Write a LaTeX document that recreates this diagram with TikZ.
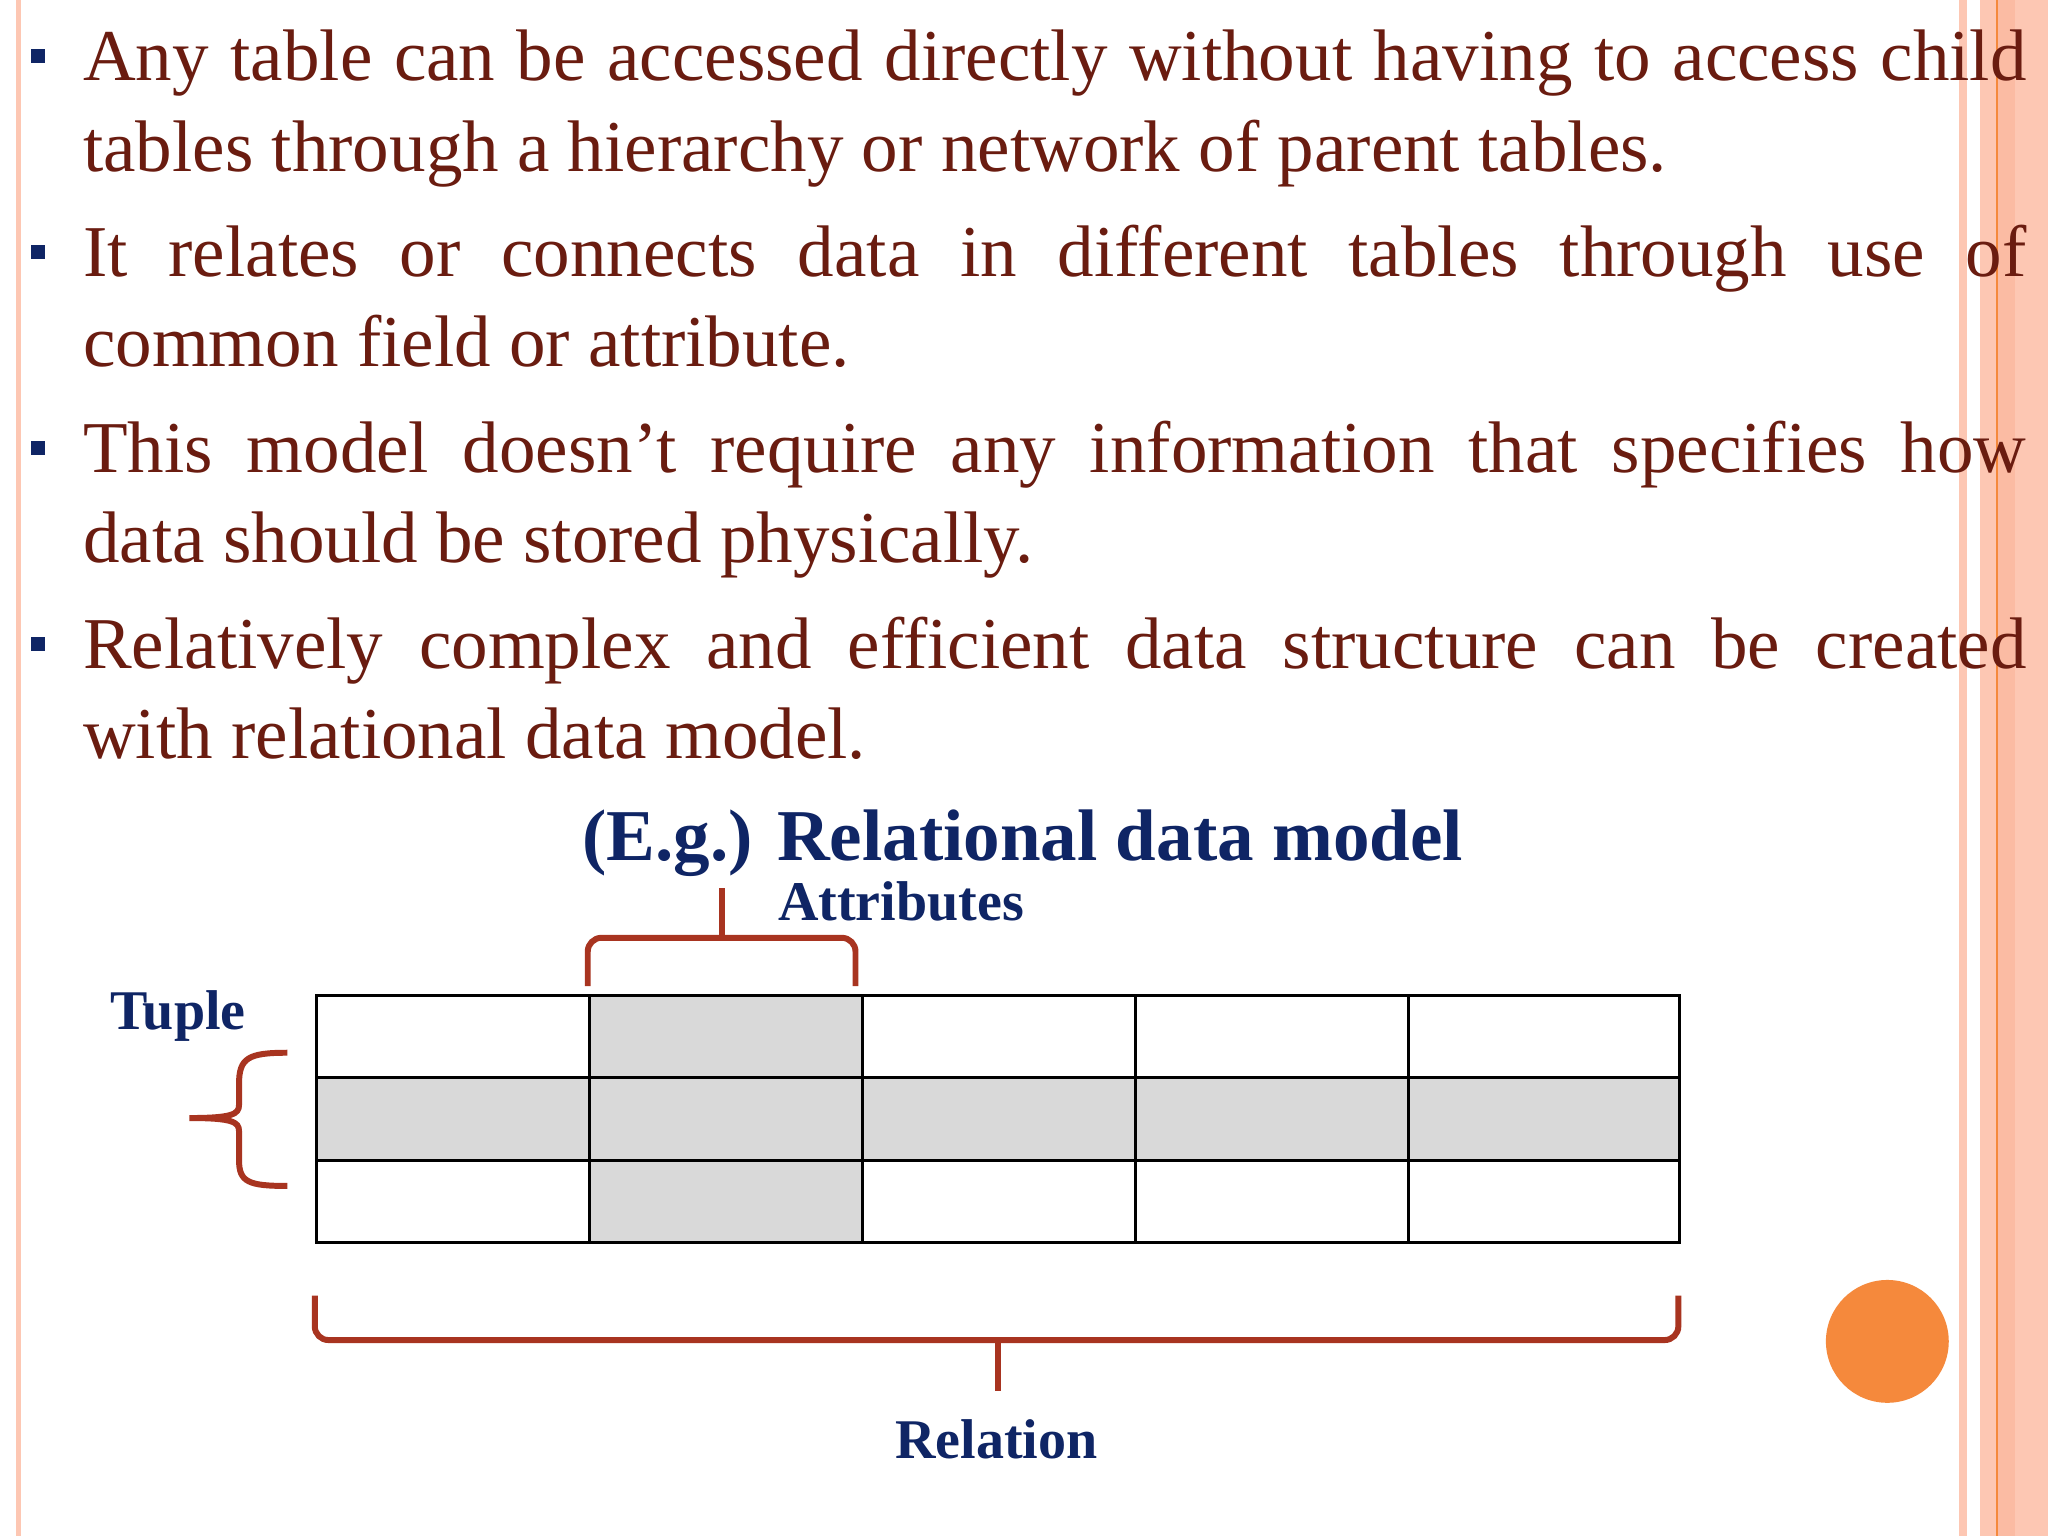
\documentclass[tikz,border=0pt]{standalone}
\usepackage{fontspec}
\setmainfont{Liberation Serif}
\definecolor{txt}{HTML}{6A1C10}
\definecolor{navy}{HTML}{0F2565}
\definecolor{brc}{HTML}{A83420}
\definecolor{stripe}{HTML}{FDC7B3}
\definecolor{stripeD}{HTML}{FBBBA3}
\definecolor{orng}{HTML}{F5893C}
\definecolor{cell}{HTML}{D9D9D9}
\begin{document}
\begin{tikzpicture}[x=0.01cm,y=-0.01cm,
  para/.style={anchor=base west,inner sep=0pt,text=txt,font=\fontsize{15.9}{19.6}\selectfont},
  bul/.style={fill=navy,minimum size=0.11cm,inner sep=0pt},
  lbl/.style={text=navy,font=\bfseries\fontsize{12.2}{14}\selectfont,inner sep=0pt},
  br/.style={draw=brc,line width=1.3pt,rounded corners=3pt},
  cellbox/.style={draw=black,line width=0.65pt}]
\useasboundingbox (0,0) rectangle (1568,1176);
\fill[white] (0,0) rectangle (1568,1176);
% borders
\fill[stripe] (12,0) rectangle (16,1176);
\fill[stripe] (1500,0) rectangle (1506,1176);
\fill[stripe] (1516,0) rectangle (1568,1176);
\fill[stripeD] (1530,0) rectangle (1543,1176);
\fill[orng] (1528,0) rectangle (1530,1176);
% bullets
\node[bul] (b1) at (29,43) {};
\node[bul] (b2) at (29,193) {};
\node[bul] (b3) at (29,343) {};
\node[bul] (b4) at (29,493) {};
% paragraphs
\node[para] (p1) at (63,62) {\parbox[t]{14.87cm}{Any table can be accessed directly without having to access child\linebreak tables through a hierarchy or network of parent tables.}};
\node[para] (p2) at (63,212) {\parbox[t]{14.87cm}{It relates or connects data in different tables through use of\linebreak common field or attribute.}};
\node[para] (p3) at (63,362) {\parbox[t]{14.87cm}{This model doesn’t require any information that specifies how\linebreak data should be stored physically.}};
\node[para] (p4) at (63,512) {\parbox[t]{14.87cm}{Relatively complex and efficient data structure can be created\linebreak with relational data model.}};
% title
\node[text=navy,font=\bfseries\fontsize{15.9}{18}\selectfont,anchor=base,inner sep=0pt] (title) at (783,659) {(E.g.) Relational data model};
\node[lbl,anchor=base west] (attr) at (595,705) {Attributes};
\node[lbl,anchor=base west] (tuple) at (84,788) {Tuple};
\node[lbl,anchor=base] (rel) at (763,1117) {Relation};
% table
\fill[cell] (241,824) rectangle (1285,887);
\fill[cell] (450,761) rectangle (659,950);
\foreach \r in {0,1,2}{
 \foreach \c/\xa/\xb in {0/241/450,1/450/659,2/659/868,3/868/1077,4/1077/1285}{
  \node[cellbox,minimum width=\xb*0.01cm-\xa*0.01cm,minimum height=0.63cm,inner sep=0pt,anchor=north west] (c\r\c) at (\xa,761+63*\r) {};
 }}
% braces
\draw[br] (450,755) -- (450,718) -- (655,718) -- (655,755);
\draw[br,rounded corners=0pt] (553,718) -- (553,680);
\draw[brc,line width=1.3pt] (220,806) .. controls (190,806) and (183,810) .. (183,830)
  -- (183,846) .. controls (183,853) and (178,856) .. (145,856)
  (145,856) .. controls (178,856) and (183,859) .. (183,866)
  -- (183,888) .. controls (183,905) and (190,908) .. (220,908);
\draw[br] (241,992) -- (241,1026) -- (1285,1026) -- (1285,992);
\draw[br,rounded corners=0pt] (764,1026) -- (764,1065);
% circle
\node[circle,fill=orng,minimum size=0.94cm,inner sep=0pt] (dot) at (1445,1027) {};
\end{tikzpicture}
\end{document}
